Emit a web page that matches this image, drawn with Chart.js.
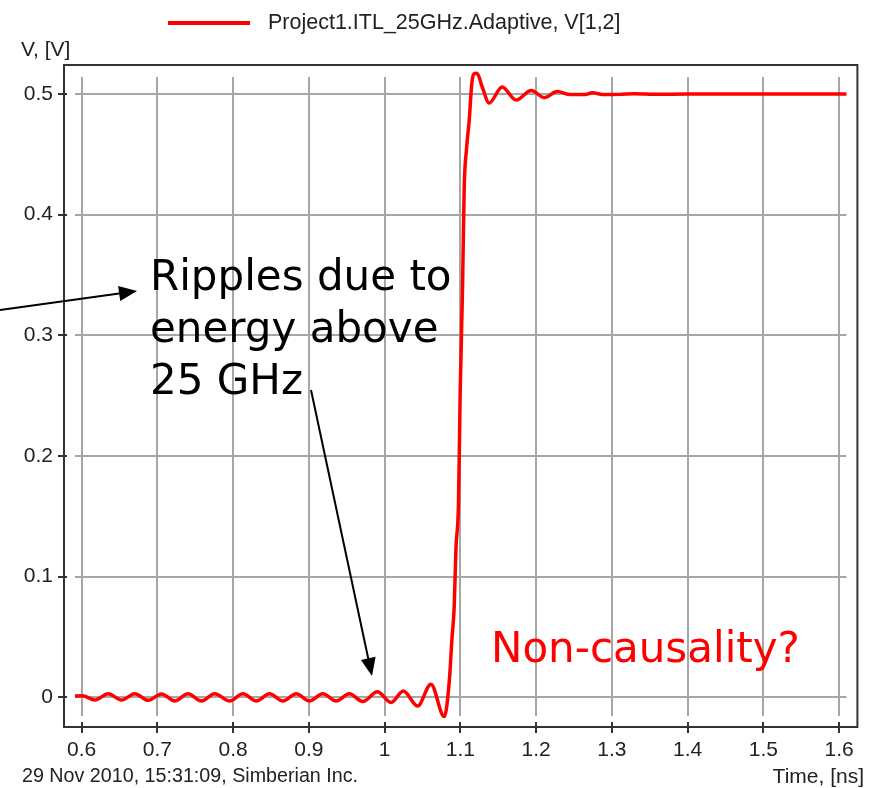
<html>
    <head>
        <meta http-equiv="Content-Type" content="text/html; charset=utf-8"/>
        <title> ITL 25GHz Adaptive </title>
        <script src="https://cdn.jsdelivr.net/npm/chart.js@4.4.1/dist/chart.umd.min.js"></script>
        <style>
            body { margin: 0; background: #ffffff; }
            .grafica { width: 876px; height: 788px; }
        </style>
    </head>
    <body>
        <div class="grafica">
            <canvas id="graficaV"></canvas>
        </div>

        <script>
            // datos (tiempo en ns, voltaje en V)
            var tiempos = [0.5912, 0.6010, 0.6175, 0.6350, 0.6527, 0.6702, 0.6877, 0.7054, 0.7229, 0.7404,
                           0.7581, 0.7756, 0.7954, 0.8129, 0.8306, 0.8481, 0.8656, 0.8833, 0.9006, 0.9183,
                           0.9360, 0.9535, 0.9710, 0.9905, 1.0084, 1.0246, 1.0435, 1.0611, 1.0787, 1.0852,
                           1.0888, 1.0918, 1.0941, 1.0975, 1.0997, 1.1028, 1.1050, 1.1080, 1.1116, 1.1151,
                           1.1180, 1.1221, 1.1287, 1.1380, 1.1550, 1.1735, 1.1935, 1.2107, 1.2280, 1.2450,
                           1.2650, 1.2740, 1.2900, 1.3100, 1.3300, 1.3600, 1.4000, 1.6096]
            var voltajes = [0.0010, 0.0012, -0.0022, 0.0030, -0.0022, 0.0030, -0.0025, 0.0028, -0.0030, 0.0030,
                            -0.0030, 0.0030, -0.0030, 0.0030, -0.0030, 0.0030, -0.0030, 0.0030, -0.0030, 0.0030,
                            -0.0030, 0.0030, -0.0035, 0.0045, -0.0044, 0.0052, -0.0072, 0.0108, -0.0160, 0.0124,
                            0.048, 0.075, 0.123, 0.161, 0.252, 0.339, 0.422, 0.454, 0.478, 0.509,
                            0.517, 0.517, 0.506, 0.4925, 0.5058, 0.4950, 0.5030, 0.4970, 0.5020, 0.4995,
                            0.4995, 0.5010, 0.4995, 0.4997, 0.5003, 0.4997, 0.5000, 0.5000]

            var ticksX = [0.6, 0.7, 0.8, 0.9, 1.0, 1.1, 1.2, 1.3, 1.4, 1.5, 1.6]
            var etiquetasX = ['0.6', '0.7', '0.8', '0.9', '1', '1.1', '1.2', '1.3', '1.4', '1.5', '1.6']
            var ticksY = [0, 0.1, 0.2, 0.3, 0.4, 0.5]
            var etiquetasY = ['0', '0.1', '0.2', '0.3', '0.4', '0.5']

            var nombreSerie = 'Project1.ITL_25GHz.Adaptive, V[1,2]'
            var tituloY = 'V, [V]'
            var tituloX = 'Time, [ns]'
            var pie = '29 Nov 2010, 15:31:09, Simberian Inc.'
            var notaRizado = ['Ripples due to', 'energy above', '25 GHz']
            var notaCausal = 'Non-causality?'

            var puntos = tiempos.map((t, i) => ({ x: t, y: voltajes[i] }))

            var fuente = '"Liberation Sans", Arial, sans-serif'

            var flecha = (ctx, x1, y1, x2, y2) => {
                var ang = Math.atan2(y2 - y1, x2 - x1)
                var largo = 18, ancho = 7.5
                ctx.beginPath()
                ctx.moveTo(x1, y1)
                ctx.lineTo(x2 - Math.cos(ang) * largo * 0.8, y2 - Math.sin(ang) * largo * 0.8)
                ctx.stroke()
                ctx.beginPath()
                ctx.moveTo(x2, y2)
                ctx.lineTo(x2 - Math.cos(ang) * largo + Math.sin(ang) * ancho, y2 - Math.sin(ang) * largo - Math.cos(ang) * ancho)
                ctx.lineTo(x2 - Math.cos(ang) * largo - Math.sin(ang) * ancho, y2 - Math.sin(ang) * largo + Math.cos(ang) * ancho)
                ctx.closePath()
                ctx.fill()
            }

            // marco, marcas, leyenda, textos y notas
            var extras = {
                id: 'extras',
                afterDraw: (chart) => {
                    var ctx = chart.ctx
                    var area = chart.chartArea
                    var sx = chart.scales.x, sy = chart.scales.y
                    ctx.save()

                    // marco
                    ctx.strokeStyle = '#333333'
                    ctx.lineWidth = 2
                    ctx.strokeRect(area.left - 11, area.top - 12, area.right - area.left + 22, area.bottom - area.top + 23)

                    // marcas de los ejes
                    ctx.lineWidth = 2
                    ticksX.forEach((v) => {
                        var px = Math.round(sx.getPixelForValue(v))
                        ctx.beginPath()
                        ctx.moveTo(px, area.bottom + 6)
                        ctx.lineTo(px, area.bottom + 17)
                        ctx.stroke()
                    })
                    ticksY.forEach((v) => {
                        var py = Math.round(sy.getPixelForValue(v))
                        ctx.beginPath()
                        ctx.moveTo(area.left - 17, py)
                        ctx.lineTo(area.left - 8, py)
                        ctx.stroke()
                    })

                    // leyenda
                    ctx.strokeStyle = '#ff0000'
                    ctx.lineWidth = 4
                    ctx.beginPath()
                    ctx.moveTo(168, 23)
                    ctx.lineTo(250, 23)
                    ctx.stroke()
                    ctx.fillStyle = '#222222'
                    ctx.font = '21.5px ' + fuente
                    ctx.textBaseline = 'middle'
                    ctx.textAlign = 'left'
                    ctx.fillText(nombreSerie, 268, 23)

                    // titulos
                    ctx.font = '21px ' + fuente
                    ctx.fillText(tituloY, 21, 50)
                    ctx.font = '19.7px ' + fuente
                    ctx.fillText(pie, 22, 777)
                    ctx.textAlign = 'right'
                    ctx.font = '21px ' + fuente
                    ctx.fillText(tituloX, 864, 777)

                    // notas
                    ctx.textAlign = 'left'
                    ctx.textBaseline = 'alphabetic'
                    ctx.fillStyle = '#000000'
                    ctx.font = '42px "DejaVu Sans", Verdana, sans-serif'
                    notaRizado.forEach((linea, i) => {
                        ctx.fillText(linea, 150, 290 + i * 52)
                    })
                    ctx.fillStyle = '#ff0000'
                    ctx.font = '42px "DejaVu Sans", Verdana, sans-serif'
                    ctx.fillText(notaCausal, 491, 662)

                    ctx.strokeStyle = '#000000'
                    ctx.fillStyle = '#000000'
                    ctx.lineWidth = 2
                    flecha(ctx, 0, 310, 137, 291)
                    flecha(ctx, 311, 390, 372, 676)

                    ctx.restore()
                }
            }

            var contenedor = document.getElementById('graficaV')

            var grafica = new Chart(contenedor, {
                type: 'line',
                data: {
                    datasets: [{
                        label: nombreSerie,
                        data: puntos,
                        borderColor: '#ff0000',
                        backgroundColor: '#ff0000',
                        borderWidth: 3.5,
                        pointRadius: 0,
                        cubicInterpolationMode: 'monotone',
                        clip: false
                    }]
                },
                options: {
                    responsive: true,
                    maintainAspectRatio: false,
                    animation: false,
                    layout: { padding: { top: 77, right: 28, left: 0, bottom: 0 } },
                    plugins: {
                        legend: { display: false },
                        tooltip: { enabled: false }
                    },
                    scales: {
                        x: {
                            type: 'linear',
                            min: 0.5912,
                            max: 1.6096,
                            afterBuildTicks: (scale) => { scale.ticks = ticksX.map(v => ({ value: v })) },
                            afterFit: (scale) => { scale.height = 72 },
                            ticks: {
                                callback: (value, index) => etiquetasX[index],
                                color: '#222222',
                                font: { family: fuente, size: 21 },
                                padding: 22,
                                maxRotation: 0,
                                autoSkip: false
                            },
                            grid: { color: '#a6a6a6', lineWidth: 2, drawTicks: false },
                            border: { display: false }
                        },
                        y: {
                            type: 'linear',
                            min: -0.0155,
                            max: 0.5141,
                            afterBuildTicks: (scale) => { scale.ticks = ticksY.map(v => ({ value: v })) },
                            afterFit: (scale) => { scale.width = 75 },
                            ticks: {
                                callback: (value, index) => etiquetasY[index],
                                color: '#222222',
                                font: { family: fuente, size: 21 },
                                padding: 22,
                                autoSkip: false
                            },
                            grid: { color: '#a6a6a6', lineWidth: 2, drawTicks: false },
                            border: { display: false }
                        }
                    }
                },
                plugins: [extras]
            })
        </script>
    </body>
</html>
